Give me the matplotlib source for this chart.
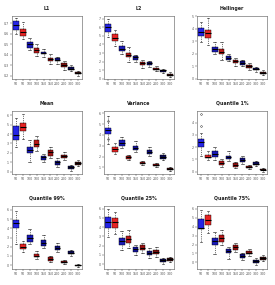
import matplotlib
matplotlib.use("Agg")
from matplotlib import pyplot as plt

# x labels: sample sizes, two methods each (blue / red)
xlabels = ["50", "50", "100", "100", "150", "150", "200", "200", "300", "300"]
colors = ["#2424e6", "#e62424", "#1a1ab8", "#b81a1a", "#12129a", "#9a1212",
          "#10107e", "#7e1010", "#0c0c55", "#3a0c0c"]

titles = ["L1", "L2", "Hellinger", "Mean", "Variance", "Quantile 1%",
          "Quantile 99%", "Quantile 25%", "Quantile 75%"]

# per panel: whisker low, q1, median, q3, whisker high for each of the 10 boxes
l1_lo = [0.60, 0.55, 0.45, 0.39, 0.38, 0.31, 0.31, 0.26, 0.25, 0.20]
l1_q1 = [0.64, 0.58, 0.47, 0.42, 0.41, 0.34, 0.34, 0.28, 0.26, 0.22]
l1_md = [0.68, 0.62, 0.50, 0.45, 0.42, 0.36, 0.35, 0.30, 0.27, 0.23]
l1_q3 = [0.72, 0.65, 0.52, 0.47, 0.43, 0.37, 0.37, 0.32, 0.28, 0.24]
l1_hi = [0.75, 0.71, 0.56, 0.50, 0.46, 0.41, 0.38, 0.34, 0.30, 0.25]

l2_lo = [4.9, 3.8, 2.9, 2.0, 2.0, 1.3, 1.4, 0.9, 0.7, 0.2]
l2_q1 = [5.5, 4.4, 3.2, 2.5, 2.2, 1.6, 1.6, 1.0, 0.8, 0.4]
l2_md = [6.0, 4.8, 3.5, 2.8, 2.5, 1.8, 1.8, 1.2, 1.0, 0.5]
l2_q3 = [6.4, 5.2, 3.8, 3.0, 2.7, 2.0, 2.0, 1.3, 1.1, 0.6]
l2_hi = [7.0, 5.7, 4.4, 3.7, 2.8, 2.2, 2.1, 1.5, 1.2, 0.8]

he_lo = [2.95, 2.68, 1.95, 1.54, 1.41, 1.00, 1.00, 0.73, 0.59, 0.30]
he_q1 = [3.43, 3.22, 2.16, 1.95, 1.54, 1.27, 1.14, 0.86, 0.70, 0.43]
he_md = [3.76, 3.62, 2.35, 2.16, 1.70, 1.41, 1.27, 1.00, 0.78, 0.51]
he_q3 = [4.05, 3.92, 2.57, 2.35, 1.81, 1.54, 1.41, 1.14, 0.84, 0.59]
he_hi = [4.50, 4.84, 2.95, 2.95, 1.95, 1.68, 1.54, 1.27, 0.92, 0.68]

mn_lo = [2.61, 3.43, 1.00, 2.18, 1.00, 1.46, 0.54, 1.25, 0.11, 0.57]
mn_q1 = [3.32, 4.29, 1.96, 2.61, 1.25, 1.71, 0.75, 1.43, 0.29, 0.75]
mn_md = [3.86, 4.75, 2.32, 2.96, 1.54, 2.07, 1.00, 1.68, 0.50, 0.93]
mn_q3 = [4.86, 5.18, 2.61, 3.32, 1.71, 2.32, 1.18, 1.82, 0.61, 1.07]
mn_hi = [5.75, 6.10, 3.39, 3.79, 1.89, 2.61, 1.43, 2.07, 0.71, 1.25]

va_lo = [3.20, 2.24, 2.76, 1.65, 2.47, 1.21, 2.09, 1.06, 1.65, 0.65]
va_q1 = [4.09, 2.41, 3.00, 1.79, 2.62, 1.29, 2.26, 1.15, 1.79, 0.74]
va_md = [4.44, 2.71, 3.29, 1.94, 2.82, 1.41, 2.47, 1.21, 2.00, 0.82]
va_q3 = [4.68, 2.91, 3.56, 2.03, 3.00, 1.50, 2.62, 1.29, 2.15, 0.91]
va_hi = [5.70, 3.29, 3.79, 2.18, 3.41, 1.59, 2.85, 1.38, 2.32, 1.00]

q01_lo = [1.30, 0.95, 0.95, 0.41, 0.89, 0.30, 0.62, 0.22, 0.43, 0.00]
q01_q1 = [1.97, 1.08, 1.22, 0.54, 1.03, 0.41, 0.76, 0.32, 0.54, 0.11]
q01_md = [2.43, 1.22, 1.43, 0.70, 1.16, 0.57, 0.95, 0.41, 0.65, 0.16]
q01_q3 = [2.70, 1.38, 1.65, 0.84, 1.30, 0.68, 1.11, 0.49, 0.76, 0.22]
q01_hi = [3.19, 1.70, 1.97, 1.03, 1.65, 0.81, 1.30, 0.57, 0.89, 0.30]

q99_lo = [2.27, 1.37, 2.27, 0.65, 1.91, 0.36, 1.44, 0.11, 1.01, -0.18]
q99_q1 = [4.08, 1.73, 2.56, 0.83, 2.09, 0.47, 1.66, 0.22, 1.16, -0.11]
q99_md = [4.55, 2.02, 3.00, 1.01, 2.45, 0.65, 1.91, 0.36, 1.30, -0.04]
q99_q3 = [4.91, 2.27, 3.29, 1.19, 2.71, 0.83, 2.09, 0.47, 1.48, 0.04]
q99_hi = [5.88, 2.64, 3.90, 1.52, 3.25, 1.01, 2.38, 0.58, 1.62, 0.11]

q25_lo = [2.95, 3.24, 1.51, 1.69, 0.97, 1.15, 0.68, 0.79, -0.04, 0.18]
q25_q1 = [3.96, 3.92, 2.05, 2.23, 1.33, 1.51, 0.97, 1.04, 0.25, 0.36]
q25_md = [4.57, 4.57, 2.48, 2.70, 1.58, 1.76, 1.22, 1.33, 0.43, 0.54]
q25_q3 = [5.11, 5.00, 2.84, 3.02, 1.87, 2.05, 1.40, 1.51, 0.54, 0.68]
q25_hi = [5.94, 5.65, 3.56, 3.67, 2.12, 2.30, 1.69, 1.80, 0.68, 0.79]

q75_lo = [2.29, 3.27, 0.98, 1.93, 0.36, 1.16, 0.29, 0.73, -0.25, 0.11]
q75_q1 = [3.75, 4.18, 1.93, 2.25, 1.09, 1.38, 0.55, 0.91, -0.11, 0.25]
q75_md = [3.89, 4.73, 2.36, 2.73, 1.27, 1.71, 0.73, 1.09, 0.18, 0.47]
q75_q3 = [4.84, 5.35, 2.73, 3.09, 1.45, 1.93, 0.91, 1.27, 0.29, 0.62]
q75_hi = [5.89, 5.71, 3.45, 3.64, 1.71, 2.18, 1.09, 1.53, 0.47, 0.84]

# a few outliers (box index, value)
va_fliers = [(0, 5.3), (0, 3.6)]
q01_fliers = [(0, 4.68), (0, 3.73)]

panels = [
    (l1_lo, l1_q1, l1_md, l1_q3, l1_hi, [], (0.17, 0.77)),
    (l2_lo, l2_q1, l2_md, l2_q3, l2_hi, [], (0.0, 7.3)),
    (he_lo, he_q1, he_md, he_q3, he_hi, [], (0.0, 5.0)),
    (mn_lo, mn_q1, mn_md, mn_q3, mn_hi, [], (-0.25, 6.45)),
    (va_lo, va_q1, va_md, va_q3, va_hi, va_fliers, (0.4, 6.2)),
    (q01_lo, q01_q1, q01_md, q01_q3, q01_hi, q01_fliers, (-0.2, 4.95)),
    (q99_lo, q99_q1, q99_md, q99_q3, q99_hi, [], (-0.43, 6.43)),
    (q25_lo, q25_q1, q25_md, q25_q3, q25_hi, [], (-0.54, 6.3)),
    (q75_lo, q75_q1, q75_md, q75_q3, q75_hi, [], (-0.73, 6.3)),
]


def main():
    fig = plt.figure(figsize=(2.75, 2.85), dpi=100)
    W, H = 275.0, 285.0
    lefts = [12, 104, 197]
    tops = [16, 111, 206]
    for k, (lo, q1, md, q3, hi, fl, yl) in enumerate(panels):
        r, c = divmod(k, 3)
        ax = fig.add_axes([lefts[c] / W, 1 - (tops[r] + 63) / H, 70 / W, 63 / H])
        stats = []
        for i in range(10):
            stats.append(dict(whislo=lo[i], q1=q1[i], med=md[i], q3=q3[i], whishi=hi[i],
                              fliers=[v for j, v in fl if j == i]))
        bp = ax.bxp(stats, positions=range(1, 11), widths=0.8, patch_artist=True,
                    whiskerprops=dict(linestyle=(0, (2, 2)), linewidth=0.4, color="black"),
                    capprops=dict(linewidth=0.4, color="black"),
                    medianprops=dict(linewidth=0.8, color="black"),
                    boxprops=dict(linewidth=0.3, edgecolor="black"),
                    flierprops=dict(marker="o", markersize=1.2, markeredgewidth=0.3,
                                    markerfacecolor="none", markeredgecolor="black"))
        for patch, col in zip(bp["boxes"], colors):
            patch.set_facecolor(col)
        ax.set_xlim(0.4, 10.6)
        ax.set_ylim(*yl)
        ax.set_xticks(range(1, 11))
        ax.set_xticklabels(xlabels)
        ax.tick_params(labelsize=2.3, length=1.2, width=0.3, pad=1,
                       colors="#333333", labelcolor="#555555")
        for s in ax.spines.values():
            s.set_linewidth(0.4)
            s.set_color("#555555")
        ax.set_title(titles[k], fontsize=3.4, fontweight="bold", pad=4.5, color="#222222")
    fig.savefig("out.png", dpi=100)


if __name__ == "__main__":
    main()
